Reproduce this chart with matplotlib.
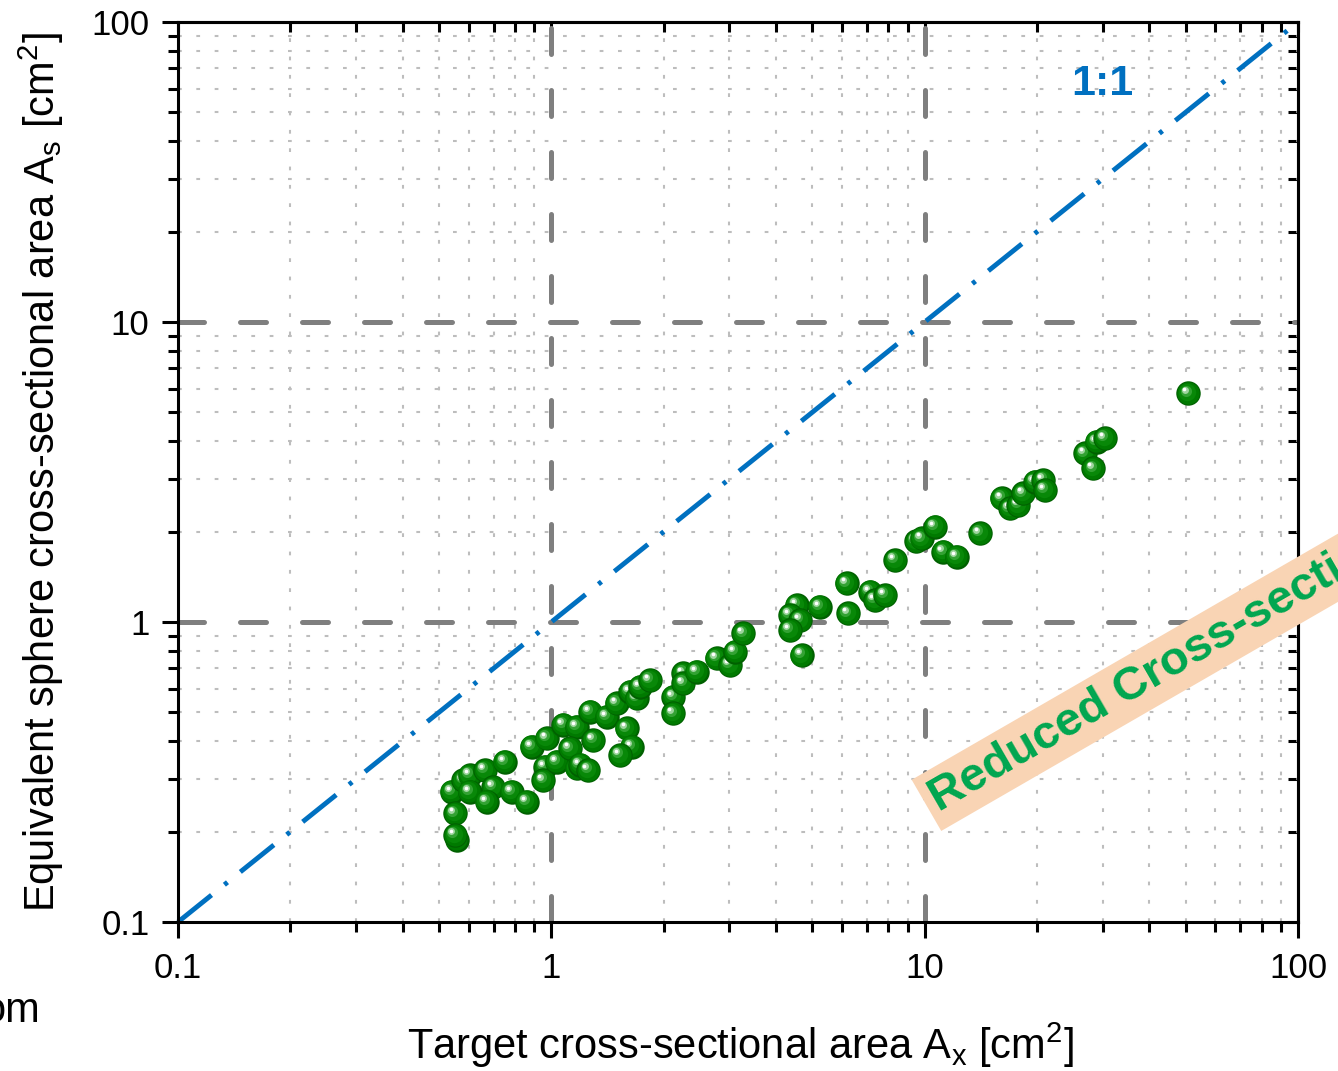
import matplotlib
matplotlib.use("Agg")
import matplotlib.pyplot as plt
from matplotlib import transforms
from matplotlib.ticker import FixedLocator, FixedFormatter, NullFormatter, LogLocator

plt.rcParams['font.family'] = ['Liberation Sans', 'DejaVu Sans']
plt.rcParams['mathtext.fontset'] = 'custom'
plt.rcParams['mathtext.rm'] = 'Liberation Sans'
plt.rcParams['mathtext.it'] = 'Liberation Sans:italic'
plt.rcParams['mathtext.bf'] = 'Liberation Sans:bold'

# Target cross-sectional area A_x [cm^2]
target_area = [0.541, 0.552, 0.558, 0.552, 0.581, 0.605, 0.605, 0.664, 0.699, 0.671,
               0.751, 0.783, 0.859, 0.886, 0.972, 0.962, 0.952, 1.034, 1.077, 1.169,
               1.122, 1.169, 1.193, 1.256, 1.269, 1.296, 1.407, 1.496, 1.592, 1.642,
               1.527, 1.625, 1.693, 1.728, 1.838, 2.122, 2.122, 2.257, 2.257, 2.452,
               2.773, 3.010, 3.105, 3.268, 4.54, 4.36, 4.64, 4.36, 5.24, 4.68,
               6.18, 6.24, 7.14, 7.36, 7.83, 8.33, 9.48, 9.82, 10.66, 11.22,
               12.18, 14.07, 16.08, 16.93, 17.82, 18.37, 19.75, 20.79, 21.01, 26.89,
               28.30, 28.89, 30.41, 50.83]
# Equivalent sphere cross-sectional area A_s [cm^2]
sphere_area = [0.272, 0.230, 0.188, 0.195, 0.297, 0.309, 0.272, 0.321, 0.282, 0.252,
               0.342, 0.272, 0.252, 0.384, 0.410, 0.329, 0.297, 0.342, 0.454, 0.448,
               0.379, 0.325, 0.334, 0.321, 0.502, 0.404, 0.483, 0.536, 0.442, 0.384,
               0.360, 0.586, 0.557, 0.608, 0.640, 0.564, 0.496, 0.675, 0.625, 0.683,
               0.757, 0.719, 0.796, 0.917, 1.139, 1.055, 1.015, 0.940, 1.124, 0.776,
               1.346, 1.069, 1.262, 1.184, 1.230, 1.609, 1.862, 1.901, 2.079, 1.715,
               1.651, 1.976, 2.585, 2.393, 2.455, 2.685, 2.936, 2.974, 2.754, 3.650,
               3.253, 3.990, 4.097, 5.786]

major_ticks = [0.1, 1, 10, 100]
major_labels = ['0.1', '1', '10', '100']
decade_lines = [1, 10]

fig = plt.figure(figsize=(13.38, 10.71), dpi=100)
ax = fig.add_axes([178 / 1338, 1 - 922 / 1071, 1120 / 1338, 900 / 1071])
ax.set_xscale('log')
ax.set_yscale('log')
ax.set_xlim(major_ticks[0], major_ticks[-1])
ax.set_ylim(major_ticks[0], major_ticks[-1])

for axis in (ax.xaxis, ax.yaxis):
    axis.set_major_locator(FixedLocator(major_ticks))
    axis.set_major_formatter(FixedFormatter(major_labels))
    axis.set_minor_locator(LogLocator(base=10, subs=range(2, 10)))
    axis.set_minor_formatter(NullFormatter())

ax.tick_params(which='both', direction='out', width=2.2, colors='black', labelsize=25)
ax.tick_params(which='major', length=11.5)
ax.tick_params(which='minor', length=7)
ax.tick_params(axis='x', which='major', pad=10)
ax.tick_params(axis='y', which='major', pad=9)
for sp in ax.spines.values():
    sp.set_linewidth(2.2)

# dotted minor grid
ax.grid(which='minor', color='#bdbdbd', linewidth=1.5, linestyle=(0, (1.8, 7.0)), zorder=0)
ax.set_axisbelow(True)

# dashed decade reference lines
for v in decade_lines:
    ax.axvline(v, color='#7f7f7f', linewidth=3.6, linestyle=(0, (5.2, 7.2)),
               dash_capstyle='round', zorder=1)
    ax.axhline(v, color='#7f7f7f', linewidth=3.6, linestyle=(0, (5.2, 7.2)),
               dash_capstyle='round', zorder=1)

# 1:1 line
ax.plot(major_ticks, major_ticks, color='#0070c0', linewidth=3.5,
        linestyle=(0, (8.85, 3.39, 0.82, 3.39)), zorder=2, clip_on=False)
ax.text(29.9, 57.1, '1:1', color='#0070c0', fontsize=31, fontweight='bold',
        ha='center', va='baseline', zorder=5)

# shaded spheres: each ball built from layered discs with an offset highlight
layers = [(17.6, '#006000', 0.0, 0.0),
          (16.0, '#007a00', -0.3, 0.3),
          (12.5, '#088808', -1.0, 1.0),
          (8.0, '#33a233', -2.0, 2.0),
          (5.0, '#9dd59d', -2.6, 2.6),
          (2.6, '#ffffff', -2.9, 2.9)]
layer_tr = [transforms.offset_copy(ax.transData, fig=fig, x=dx, y=dy, units='points')
            for _, _, dx, dy in layers]
for i, (xv, yv) in enumerate(zip(target_area, sphere_area)):
    for j, (size, col, dx, dy) in enumerate(layers):
        ax.scatter([xv], [yv], s=size ** 2, color=col, linewidths=0,
                   transform=layer_tr[j], zorder=3 + i * 0.01 + j * 0.001)

# inward ticks on the top and right edges
for sec in (ax.secondary_xaxis('top'), ax.secondary_yaxis('right')):
    sec.tick_params(which='both', direction='in', width=2.2, length=7,
                    labeltop=False, labelright=False, labelbottom=False, labelleft=False)
    for sp in sec.spines.values():
        sp.set_linewidth(2.2)

ax.set_xlabel(r'Target cross-sectional area A$_\mathregular{x}$ [cm$^\mathregular{2}$]',
              fontsize=30)
ax.set_ylabel(r'Equivalent sphere cross-sectional area A$_\mathregular{s}$ [cm$^\mathregular{2}$]',
              fontsize=30)
ax.xaxis.set_label_coords(0.502, -0.109)
ax.yaxis.set_label_coords(-0.1, 0.5)

fig.text(40 / 1338, 1 - 1022 / 1071, 'om', fontsize=30, ha='right', va='baseline')

fig.text(933 / 1338, 1 - 801.6 / 1071, 'Reduced Cross-section', rotation=30,
         rotation_mode='anchor', ha='left', va='center', fontsize=34,
         fontweight='bold', color='#00a650', zorder=10,
         bbox=dict(boxstyle='square,pad=0.16', fc='#f9d4b4', ec='none'))

fig.savefig('out.png', dpi=100)
